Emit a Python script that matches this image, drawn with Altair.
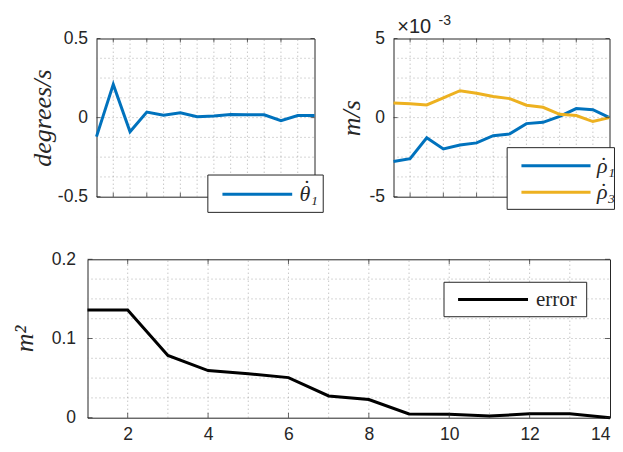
import altair as alt
import pandas as pd

# ---------------- data ----------------
steps = list(range(1, 15))
theta1_dot = [-0.12, 0.21, -0.09, 0.035, 0.015, 0.03, 0.005, 0.01, 0.02, 0.018, 0.018, -0.02, 0.013, 0.013]
rho1_dot_e3 = [-2.77, -2.6, -1.28, -1.98, -1.73, -1.6, -1.14, -1.03, -0.38, -0.3, 0.08, 0.57, 0.5, 0.0]
rho3_dot_e3 = [0.93, 0.87, 0.8, 1.25, 1.7, 1.54, 1.33, 1.2, 0.78, 0.65, 0.21, 0.13, -0.25, 0.0]
error = [0.136, 0.136, 0.0785, 0.0595, 0.0555, 0.0506, 0.0275, 0.023, 0.0047, 0.0045, 0.002, 0.005, 0.005, 0.0]

x_major = [2, 4, 6, 8, 10, 12]
x_grid = list(range(2, 14))

tl_grid = [-0.375, -0.25, -0.125, 0, 0.125, 0.25, 0.375]
tl_ticks = [-0.5, 0, 0.5]
tl_labels = ["-0.5", "0", "0.5"]

tr_grid = [-3.75, -2.5, -1.25, 0, 1.25, 2.5, 3.75]
tr_ticks = [-5, 0, 5]
tr_labels = ["-5", "0", "5"]

b_grid = [0.025, 0.05, 0.075, 0.1, 0.125, 0.15, 0.175]
b_ticks = [0, 0.1, 0.2]
b_labels = ["0", "0.1", "0.2"]

BLUE = "#0072BD"
YELLOW = "#EDB120"
BLACK = "#000000"
FRAME = "#262626"
GRID = "#8c8c8c"
SANS = "Liberation Sans"
SERIF = "Liberation Serif"


def label_expr(vals, labs):
    parts = []
    for v, l in zip(vals, labs):
        parts.append(f"datum.value == {v} ? '{l}' : ")
    return "".join(parts) + "''"


def x_axis(show_labels, pad):
    kw = dict(values=x_major + [14], grid=False, ticks=False, domain=False, title=None,
              labels=show_labels, labelPadding=pad)
    return alt.Axis(**kw)


def y_axis(tvals, tlabs, title, title_x, h, pad):
    return alt.Axis(values=tvals, grid=False, ticks=False, domain=False,
                    labelExpr=label_expr(tvals, tlabs), labelPadding=pad,
                    title=title, titleX=title_x, titleY=h / 2, titleAngle=270,
                    titleFont=SERIF, titleFontStyle="italic", titleFontWeight="normal",
                    titleFontSize=26, titleColor=FRAME, titleBaseline="middle", titleAlign="center")


def panel(series, ydom, grid, tvals, tlabs, title, title_x,
          w, h, show_xlabels, tick_len, legend, extras=None, ypad=9):
    xs = alt.Scale(domain=[1, 14], nice=False, zero=False)
    ys = alt.Scale(domain=ydom, nice=False, zero=False)
    layers = []
    # dotted grid
    layers.append(alt.Chart(pd.DataFrame({"g": x_grid})).mark_rule(
        strokeDash=[1, 3], color=GRID, strokeWidth=1, opacity=0.7).encode(
        x=alt.X("g:Q", scale=xs, axis=x_axis(show_xlabels, 8)),
        y=alt.datum(ydom[0]), y2=alt.datum(ydom[1])))
    layers.append(alt.Chart(pd.DataFrame({"g": grid})).mark_rule(
        strokeDash=[1, 3], color=GRID, strokeWidth=1, opacity=0.7).encode(
        y=alt.Y("g:Q", scale=ys, axis=y_axis(tvals, tlabs, title, title_x, h, ypad)),
        x=alt.datum(1), x2=alt.datum(14)))
    for vals, col in series:
        df = pd.DataFrame({"step": steps, "value": vals})
        layers.append(alt.Chart(df).mark_line(strokeWidth=3, color=col).encode(
            x="step:Q", y="value:Q"))
    xt = pd.DataFrame({"t": x_major})
    yt = pd.DataFrame({"t": tvals})
    layers.append(alt.Chart(xt).mark_tick(orient="vertical", size=tick_len, thickness=1, color=FRAME,
                                          yOffset=-tick_len / 2).encode(x="t:Q", y=alt.datum(ydom[0])))
    layers.append(alt.Chart(xt).mark_tick(orient="vertical", size=tick_len, thickness=1, color=FRAME,
                                          yOffset=tick_len / 2).encode(x="t:Q", y=alt.datum(ydom[1])))
    layers.append(alt.Chart(yt).mark_tick(orient="horizontal", size=tick_len, thickness=1, color=FRAME,
                                          xOffset=tick_len / 2).encode(y="t:Q", x=alt.datum(1)))
    layers.append(alt.Chart(yt).mark_tick(orient="horizontal", size=tick_len, thickness=1, color=FRAME,
                                          xOffset=-tick_len / 2).encode(y="t:Q", x=alt.datum(14)))
    # legend box
    one = pd.DataFrame({"t": [0]})
    bx0, bx1, by0, by1 = legend["box"]
    layers.append(alt.Chart(one).mark_rect(fill="white", stroke=FRAME, strokeWidth=1).encode(
        x=alt.datum(bx0), x2=alt.datum(bx1), y=alt.datum(by0), y2=alt.datum(by1)))
    lx0, lx1, tx = legend["line_x"]
    for (ly, col, txt, style, size, dot) in legend["entries"]:
        layers.append(alt.Chart(one).mark_rule(strokeWidth=3, color=col).encode(
            x=alt.datum(lx0), x2=alt.datum(lx1), y=alt.datum(ly)))
        layers.append(alt.Chart(one).mark_text(text=txt, align="left", baseline="middle",
                                               font=SERIF, fontStyle=style, fontWeight="normal",
                                               fontSize=size, color=FRAME
                                               ).encode(x=alt.datum(tx), y=alt.datum(ly)))
        if dot:
            layers.append(alt.Chart(one).mark_text(text="˙", align="center", baseline="middle",
                                                   font=SERIF, fontSize=size, color=FRAME,
                                                   dx=dot[0], dy=dot[1]
                                                   ).encode(x=alt.datum(tx), y=alt.datum(ly)))
    if extras:
        layers.extend(extras)
    return alt.layer(*layers).properties(width=w, height=h)


H = 158.2

top_left = panel(
    [(theta1_dot, BLUE)], [-0.5, 0.5], tl_grid, tl_ticks, tl_labels,
    "degrees/s", -54.5, 218, H, False, 4,
    {"box": (7.64, 14.52, -0.363, -0.599), "line_x": (8.51, 12.67, 13.1),
     "entries": [(-0.485, BLUE, "θ₁", "italic", 22, (7.5, -6))]},
)

one0 = pd.DataFrame({"t": [0]})
mult1 = alt.Chart(one0).mark_text(text="×10", align="left", baseline="alphabetic", dx=3.7, dy=-5.2,
                                  font=SANS, fontSize=20, color=FRAME).encode(x=alt.datum(1), y=alt.datum(5))
mult2 = alt.Chart(one0).mark_text(text="-3", align="left", baseline="alphabetic", dx=45, dy=-13.5,
                                  font=SANS, fontSize=14, color=FRAME).encode(x=alt.datum(1), y=alt.datum(5))
top_right = panel(
    [(rho1_dot_e3, BLUE), (rho3_dot_e3, YELLOW)], [-5, 5], tr_grid, tr_ticks, tr_labels,
    "m/s", -42, 216, H, False, 4,
    {"box": (7.84, 14.3, -1.90, -5.80), "line_x": (8.70, 12.86, 13.25),
     "entries": [(-3.04, BLUE, "ρ₁", "italic", 22, (6.5, -1)),
                 (-4.72, YELLOW, "ρ₃", "italic", 22, (6.5, -1))]},
    extras=[mult1, mult2],
)

bottom = panel(
    [(error, BLACK)], [0, 0.2], b_grid, b_ticks, b_labels,
    "m²", -63.5, 522.5, 158.4, True, 5,
    {"box": (9.87, 13.42, 0.1710, 0.1275), "line_x": (10.22, 11.96, 12.16),
     "entries": [(0.1492, BLACK, "error", "normal", 21, None)]},
    ypad=12,
)

spacer = alt.Chart(pd.DataFrame({"a": [0]})).mark_point(opacity=0).encode(
    x=alt.X("a:Q", axis=None), y=alt.Y("a:Q", axis=None)
).properties(width=8.5, height=H, view=alt.ViewBackground(stroke="transparent"))

top_pair = alt.hconcat(top_left, top_right, spacing=79, bounds="flush")
top_row = alt.hconcat(spacer, top_pair, spacing=0, bounds="flush")

# the nested top row counts as zero height in a flush layout, so the spacing
# includes the top panels' height (158.2) plus the gap between rows (62.6)
chart = alt.vconcat(top_row, bottom, spacing=220.8, bounds="flush").properties(
    autosize=alt.AutoSizeParams(type="none"),
    padding={"left": 79.5, "top": 30.5, "right": 527.5, "bottom": 405.5},
).configure_view(
    stroke=FRAME, strokeWidth=1
).configure_axis(
    grid=False, labelFont=SANS, labelFontSize=17.5, labelColor=FRAME,
    titleFont=SERIF, titleFontStyle="italic", titleFontWeight="normal",
    titleFontSize=26, titleColor=FRAME,
).configure_axisY(
    titleFont=SERIF, titleFontStyle="italic", titleFontWeight="normal",
)

chart.save("out.html", embed_options={"renderer": "svg", "actions": False})
